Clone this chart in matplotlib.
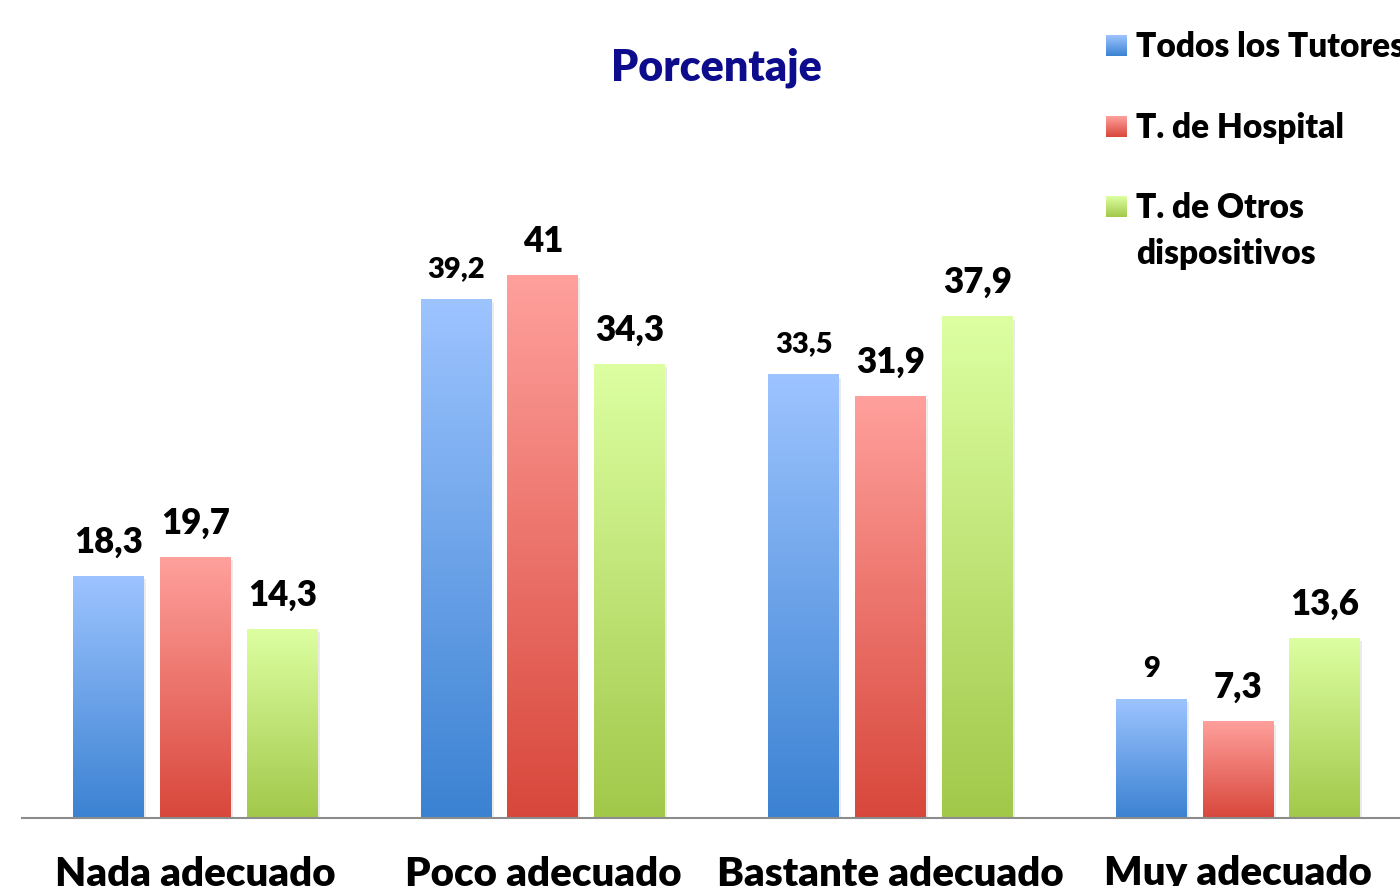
import numpy as np
import matplotlib.pyplot as plt
from matplotlib.colors import LinearSegmentedColormap

plt.rcParams['font.family'] = ['Lato', 'DejaVu Sans']

# datos
categorias = ['Nada adecuado', 'Poco adecuado', 'Bastante adecuado', 'Muy adecuado']
series = ['Todos los Tutores', 'T. de Hospital', 'T. de Otros\ndispositivos']
todos = [18.3, 39.2, 33.5, 9]
hospital = [19.7, 41, 31.9, 7.3]
otros = [14.3, 34.3, 37.9, 13.6]
valores = [todos, hospital, otros]

# degradado: color arriba, color abajo
degradados = [('#9dc4ff', '#3b82d2'), ('#ffa09c', '#d8473b'), ('#ddffa2', '#a2c84a')]
# tamanos de las etiquetas (como en el original, no todas iguales)
tam_etiq = [[25, 21, 21, 21], [25, 25, 25, 25], [25, 25, 25, 25]]
peso = 'heavy'

fig = plt.figure(figsize=(14, 8.86), dpi=100)
ax = fig.add_axes([22 / 1400, 68 / 886, 1 - 22 / 1400, 818 / 886])

x = np.arange(len(categorias))
paso = 0.25
ancho = 0.204

for i, (vals, (c_top, c_bot)) in enumerate(zip(valores, degradados)):
    cmap = LinearSegmentedColormap.from_list('g%d' % i, [c_bot, c_top])
    pos = x + (i - 1) * paso
    bars = ax.bar(pos, vals, ancho, color='none', edgecolor='none', zorder=2)
    for j, b in enumerate(bars):
        x0, h = b.get_x(), b.get_height()
        # sombra suave
        ax.add_patch(plt.Rectangle((x0 + 0.006, 0), ancho, h - 0.25, color='#000000',
                                   alpha=0.08, lw=0, zorder=1))
        grad = np.linspace(1, 0, 256).reshape(-1, 1)
        im = ax.imshow(grad, cmap=cmap, extent=(x0, x0 + ancho, 0, h),
                       aspect='auto', zorder=2, vmin=0, vmax=1)
        im.set_clip_path(b)
        ax.text(pos[j], h + 1.3, ('%g' % vals[j]).replace('.', ','), ha='center',
                va='bottom', fontsize=tam_etiq[i][j], fontweight=peso, color='black')

ax.set_xlim(-0.499, (1400 - 195.5) / 347.5)
ax.set_ylim(0, 818 / 13.24)
ax.set_xticks(x)
ax.set_xticklabels(categorias, fontsize=29, fontweight=peso)
ax.tick_params(axis='x', length=0, pad=27)
ax.set_yticks([])
for s in ['top', 'right', 'left']:
    ax.spines[s].set_visible(False)
ax.spines['bottom'].set_color('#8c8c8c')
ax.spines['bottom'].set_linewidth(1.5)
ax.patch.set_alpha(0)

fig.text(716 / 1400, 1 - 68 / 886, 'Porcentaje', ha='center', va='center',
         fontsize=31, fontweight=peso, color='#0c0c8c')

# leyenda manual con cuadritos en degradado
leg_y = [45, 126, 206]
for (c_top, c_bot), nombre, yy in zip(degradados, series, leg_y):
    sq = fig.add_axes([1106 / 1400, 1 - (yy + 11) / 886, 21 / 1400, 21 / 886])
    cmap = LinearSegmentedColormap.from_list('l', [c_bot, c_top])
    sq.imshow(np.linspace(1, 0, 64).reshape(-1, 1), cmap=cmap, aspect='auto')
    sq.axis('off')
    fig.text(1136 / 1400, 1 - (yy - 14) / 886, nombre, ha='left', va='top',
             fontsize=24, fontweight=peso, linespacing=1.55)

fig.savefig('out.png', dpi=100)
